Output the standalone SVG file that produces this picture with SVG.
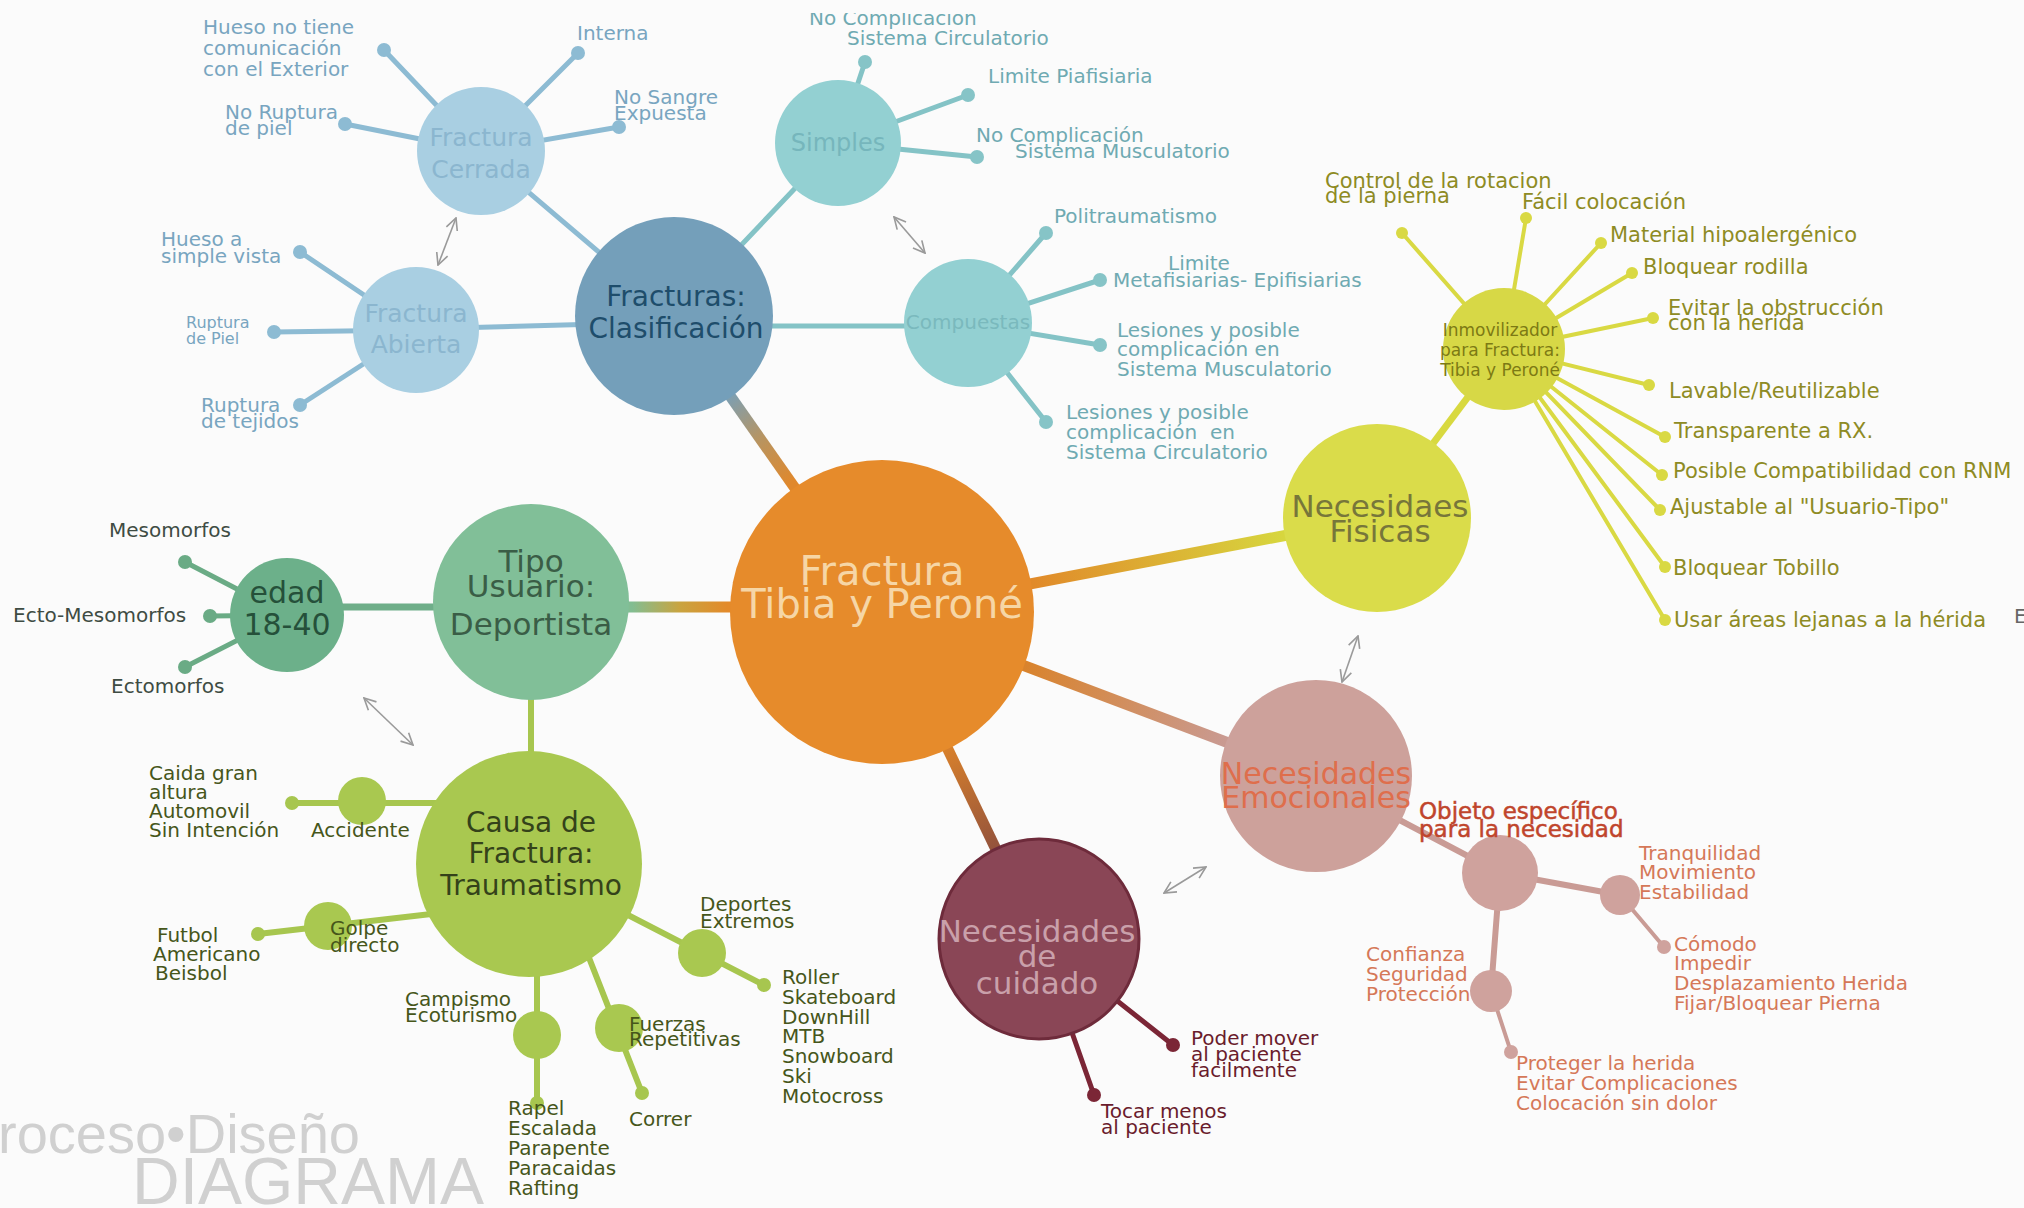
<svg xmlns="http://www.w3.org/2000/svg" width="2024" height="1208" viewBox="0 0 2024 1208">
<style>
text{font-family:"DejaVu Sans","Liberation Sans",sans-serif;}
.c{text-anchor:middle}
.lf{font-size:20px}
.lb{fill:#78a5c0}
.tl{fill:#6faab2}
.yl{fill:#8e8b24}
.gn{fill:#3e4c43}
.ol{fill:#46561a}
.rs{fill:#d57858}
.mr{fill:#6a1c2c}
.ln{fill:none;stroke-linecap:round}
.arr{stroke:#9a9a9a;stroke-width:1.6;fill:none;marker-start:url(#vh);marker-end:url(#vh)}
.wm{font-family:"Liberation Sans",sans-serif;fill:#d0d0d0}
</style>
<defs>
<marker id="vh" viewBox="0 0 12 12" refX="11" refY="6" markerWidth="14" markerHeight="14" markerUnits="userSpaceOnUse" orient="auto-start-reverse">
<path d="M1,1 L11,6 L1,11" fill="none" stroke="#9a9a9a" stroke-width="1.4"/>
</marker>
<linearGradient id="gFr" gradientUnits="userSpaceOnUse" x1="800" y1="477" x2="736" y2="391">
<stop offset="0" stop-color="#e0882c"/><stop offset="0.5" stop-color="#b89460"/><stop offset="1" stop-color="#7d9fb2"/>
</linearGradient>
<linearGradient id="gTi" gradientUnits="userSpaceOnUse" x1="727" y1="0" x2="632" y2="0">
<stop offset="0" stop-color="#e38a2a"/><stop offset="0.5" stop-color="#c9a440"/><stop offset="1" stop-color="#82bd92"/>
</linearGradient>
<linearGradient id="gFi" gradientUnits="userSpaceOnUse" x1="1033" y1="583" x2="1283" y2="536">
<stop offset="0" stop-color="#e18a2a"/><stop offset="1" stop-color="#d7d63e"/>
</linearGradient>
<linearGradient id="gEm" gradientUnits="userSpaceOnUse" x1="1024" y1="666" x2="1226" y2="742">
<stop offset="0" stop-color="#d9832c"/><stop offset="1" stop-color="#c99a92"/>
</linearGradient>
<linearGradient id="gCu" gradientUnits="userSpaceOnUse" x1="948" y1="750" x2="995" y2="848">
<stop offset="0" stop-color="#d67f2c"/><stop offset="1" stop-color="#94533c"/>
</linearGradient>
<clipPath id="topcut"><rect x="0" y="13" width="2024" height="1195"/></clipPath>
</defs>

<rect width="2024" height="1208" fill="#fbfbfb"/>

<g id="connectors">
  <!-- hub spokes -->
  <line x1="882" y1="612" x2="674" y2="316" stroke="url(#gFr)" stroke-width="11"/>
  <line x1="882" y1="607" x2="533" y2="607" stroke="url(#gTi)" stroke-width="11"/>
  <line x1="882" y1="612" x2="1377" y2="518" stroke="url(#gFi)" stroke-width="11"/>
  <line x1="882" y1="612" x2="1316" y2="776" stroke="url(#gEm)" stroke-width="11"/>
  <line x1="882" y1="612" x2="1039" y2="939" stroke="url(#gCu)" stroke-width="11"/>

  <!-- fracture classification -->
  <g class="ln" stroke="#8dbbd3" stroke-width="5">
    <line x1="674" y1="316" x2="480" y2="151"/>
    <line x1="674" y1="322" x2="416" y2="329"/>
    <line x1="480" y1="151" x2="384" y2="50"/>
    <line x1="480" y1="151" x2="578" y2="53"/>
    <line x1="480" y1="151" x2="345" y2="124"/>
    <line x1="480" y1="151" x2="619" y2="127"/>
    <line x1="416" y1="330" x2="300" y2="252"/>
    <line x1="416" y1="330" x2="274" y2="332"/>
    <line x1="416" y1="330" x2="300" y2="405"/>
  </g>
  <g class="ln" stroke="#84c3c6" stroke-width="5">
    <line x1="674" y1="316" x2="838" y2="143"/>
    <line x1="674" y1="326" x2="968" y2="326"/>
    <line x1="838" y1="143" x2="865" y2="62"/>
    <line x1="838" y1="143" x2="968" y2="95"/>
    <line x1="838" y1="143" x2="977" y2="157"/>
    <line x1="968" y1="323" x2="1046" y2="233"/>
    <line x1="968" y1="323" x2="1100" y2="280"/>
    <line x1="968" y1="323" x2="1100" y2="345"/>
    <line x1="968" y1="323" x2="1046" y2="422"/>
  </g>

  <!-- user type -->
  <g class="ln" stroke="#6fae89" stroke-width="7">
    <line x1="287" y1="607" x2="533" y2="607"/>
  </g>
  <g class="ln" stroke="#6aab85" stroke-width="5">
    <line x1="287" y1="615" x2="185" y2="562"/>
    <line x1="287" y1="615" x2="210" y2="616"/>
    <line x1="287" y1="615" x2="185" y2="667"/>
  </g>

  <!-- causes -->
  <g class="ln" stroke="#a7c64f" stroke-width="6">
    <line x1="531" y1="602" x2="531" y2="864"/>
    <line x1="529" y1="803" x2="292" y2="803"/>
    <line x1="440" y1="913" x2="258" y2="934"/>
    <line x1="529" y1="864" x2="764" y2="985"/>
    <line x1="537" y1="864" x2="537" y2="1103"/>
    <line x1="575" y1="922" x2="642" y2="1093"/>
  </g>

  <!-- physical needs -->
  <line x1="1377" y1="518" x2="1504" y2="349" stroke="#d8d940" stroke-width="7"/>
  <g class="ln" stroke="#d9d943" stroke-width="4">
    <line x1="1504" y1="349" x2="1402" y2="233"/>
    <line x1="1504" y1="349" x2="1526" y2="218"/>
    <line x1="1504" y1="349" x2="1601" y2="243"/>
    <line x1="1504" y1="349" x2="1632" y2="273"/>
    <line x1="1504" y1="349" x2="1653" y2="318"/>
    <line x1="1504" y1="349" x2="1649" y2="385"/>
    <line x1="1504" y1="349" x2="1665" y2="437"/>
    <line x1="1504" y1="349" x2="1662" y2="475"/>
    <line x1="1504" y1="349" x2="1660" y2="510"/>
    <line x1="1504" y1="349" x2="1665" y2="567"/>
    <line x1="1504" y1="349" x2="1665" y2="620"/>
  </g>

  <!-- emotional needs -->
  <g class="ln" stroke="#c99b95" stroke-width="6">
    <line x1="1316" y1="776" x2="1500" y2="873"/>
    <line x1="1500" y1="873" x2="1620" y2="895"/>
    <line x1="1500" y1="873" x2="1491" y2="991"/>
  </g>
  <g class="ln" stroke="#c99b95" stroke-width="4">
    <line x1="1620" y1="895" x2="1664" y2="947"/>
    <line x1="1491" y1="991" x2="1511" y2="1052"/>
  </g>

  <!-- care needs -->
  <g class="ln" stroke="#7b2636" stroke-width="5">
    <line x1="1039" y1="939" x2="1173" y2="1045"/>
    <line x1="1039" y1="939" x2="1094" y2="1095"/>
  </g>

  <!-- related-pair arrows -->
  <line class="arr" x1="456" y1="218" x2="438" y2="265"/>
  <line class="arr" x1="894" y1="217" x2="925" y2="253"/>
  <line class="arr" x1="364" y1="698" x2="413" y2="745"/>
  <line class="arr" x1="1358" y1="636" x2="1342" y2="682"/>
  <line class="arr" x1="1164" y1="893" x2="1206" y2="867"/>
</g>

<!-- hub -->
<g id="hub">
  <circle cx="882" cy="612" r="152" fill="#e68b2b"/>
  <text class="c" x="882" y="585" font-size="40" fill="#f6d6a6">Fractura</text>
  <text class="c" x="882" y="618" font-size="40" fill="#f6d6a6">Tibia y Peroné</text>
</g>

<g id="fracturas">
  <circle cx="674" cy="316" r="99" fill="#749fba"/>
  <text class="c" x="676" y="306" font-size="28" fill="#1e4d6b">Fracturas:</text>
  <text class="c" x="676" y="338" font-size="28" fill="#1e4d6b">Clasificación</text>
</g>

<g id="cerrada">
  <circle cx="481" cy="151" r="64" fill="#a9cfe2"/>
  <text class="c" x="481" y="146" font-size="25" fill="#8bb6cf">Fractura</text>
  <text class="c" x="481" y="178" font-size="25" fill="#8bb6cf">Cerrada</text>
</g>

<g id="abierta">
  <circle cx="416" cy="330" r="63" fill="#a9cfe2"/>
  <text class="c" x="416" y="322" font-size="25" fill="#8bb6cf">Fractura</text>
  <text class="c" x="416" y="353" font-size="25" fill="#8bb6cf">Abierta</text>
</g>

<g id="simples">
  <circle cx="838" cy="143" r="63" fill="#93d0d2"/>
  <text class="c" x="838" y="151" font-size="24" fill="#76b6bc">Simples</text>
</g>

<g id="compuestas">
  <circle cx="968" cy="323" r="64" fill="#93d0d2"/>
  <text class="c" x="968" y="329" font-size="20" fill="#7ab9bd">Compuestas</text>
</g>

<g id="tipo-usuario">
  <circle cx="531" cy="602" r="98" fill="#81bf98"/>
  <text class="c" x="531" y="572" font-size="31" fill="#3a5d46">Tipo</text>
  <text class="c" x="531" y="597" font-size="31" fill="#3a5d46">Usuario:</text>
  <text class="c" x="531" y="635" font-size="31" fill="#3a5d46">Deportista</text>
</g>

<g id="edad">
  <circle cx="287" cy="615" r="57" fill="#6cb08a"/>
  <text class="c" x="287" y="603" font-size="30" fill="#25503a">edad</text>
  <text class="c" x="287" y="635" font-size="30" fill="#25503a">18-40</text>
</g>

<g id="causa">
  <circle cx="529" cy="864" r="113" fill="#a9c850"/>
  <text class="c" x="531" y="832" font-size="28" fill="#34421a">Causa de</text>
  <text class="c" x="531" y="863" font-size="28" fill="#34421a">Fractura:</text>
  <text class="c" x="531" y="895" font-size="28" fill="#34421a">Traumatismo</text>
</g>

<g id="accidente">
  <circle cx="362" cy="801" r="24" fill="#a9c850"/>
  <text class="lf ol" x="311" y="837">Accidente</text>
</g>
<g id="golpe">
  <circle cx="328" cy="926" r="24" fill="#a9c850"/>
  <text class="lf ol" x="330" y="935">Golpe</text>
  <text class="lf ol" x="330" y="952">directo</text>
</g>
<g id="deportes">
  <circle cx="702" cy="953" r="24" fill="#a9c850"/>
  <text class="lf ol" x="700" y="911">Deportes</text>
  <text class="lf ol" x="700" y="928">Extremos</text>
</g>
<g id="campismo">
  <circle cx="537" cy="1035" r="24" fill="#a9c850"/>
  <text class="lf ol" x="405" y="1006">Campismo</text>
  <text class="lf ol" x="405" y="1022">Ecoturismo</text>
</g>
<g id="fuerzas">
  <circle cx="619" cy="1028" r="24" fill="#a9c850"/>
  <text class="lf ol" x="629" y="1031">Fuerzas</text>
  <text class="lf ol" x="629" y="1046">Repetitivas</text>
</g>

<g id="fisicas">
  <circle cx="1377" cy="518" r="94" fill="#dadc4a"/>
  <text class="c" x="1380" y="517" font-size="31" fill="#77763a">Necesidaes</text>
  <text class="c" x="1380" y="542" font-size="31" fill="#77763a">Fisicas</text>
</g>

<g id="inmovilizador">
  <circle cx="1504" cy="349" r="61" fill="#d7d846"/>
  <text class="c" x="1500" y="336" font-size="17" fill="#7d7a14">Inmovilizador</text>
  <text class="c" x="1500" y="356" font-size="17" fill="#7d7a14">para Fractura:</text>
  <text class="c" x="1500" y="376" font-size="17" fill="#7d7a14">Tibia y Peroné</text>
</g>

<g id="emocionales">
  <circle cx="1316" cy="776" r="96" fill="#cda19b"/>
  <text class="c" x="1316" y="784" font-size="30" fill="#df6e4c">Necesidades</text>
  <text class="c" x="1316" y="808" font-size="30" fill="#df6e4c">Emocionales</text>
</g>

<g id="objeto">
  <circle cx="1500" cy="873" r="38" fill="#cfa29d"/>
  <text x="1419" y="819" font-size="23" fill="#c0452c" stroke="#c0452c" stroke-width="0.5">Objeto específico</text>
  <text x="1419" y="837" font-size="23" fill="#c0452c" stroke="#c0452c" stroke-width="0.5">para la necesidad</text>
</g>
<g id="tranquilidad">
  <circle cx="1620" cy="895" r="20" fill="#cfa29d"/>
  <text class="lf rs" x="1639" y="860">Tranquilidad</text>
  <text class="lf rs" x="1639" y="879">Movimiento</text>
  <text class="lf rs" x="1639" y="899">Estabilidad</text>
</g>
<g id="confianza">
  <circle cx="1491" cy="991" r="21" fill="#cfa29d"/>
  <text class="lf rs" x="1366" y="961">Confianza</text>
  <text class="lf rs" x="1366" y="981">Seguridad</text>
  <text class="lf rs" x="1366" y="1001">Protección</text>
</g>

<g id="cuidado">
  <circle cx="1039" cy="939" r="100" fill="#8a4656" stroke="#6e2b3b" stroke-width="3"/>
  <text class="c" x="1037" y="942" font-size="31" fill="#c9a0aa">Necesidades</text>
  <text class="c" x="1037" y="967" font-size="31" fill="#c9a0aa">de</text>
  <text class="c" x="1037" y="994" font-size="31" fill="#c9a0aa">cuidado</text>
</g>

<!-- leaves: closed fracture -->
<g id="leaf-hueso-no-tiene">
  <circle cx="384" cy="50" r="7" fill="#8dbbd3"/>
  <text class="lf lb" x="203" y="34">Hueso no tiene</text>
  <text class="lf lb" x="203" y="55">comunicación</text>
  <text class="lf lb" x="203" y="76">con el Exterior</text>
</g>
<g id="leaf-interna">
  <circle cx="578" cy="53" r="7" fill="#8dbbd3"/>
  <text class="lf lb" x="577" y="40">Interna</text>
</g>
<g id="leaf-no-ruptura">
  <circle cx="345" cy="124" r="7" fill="#8dbbd3"/>
  <text class="lf lb" x="225" y="119">No Ruptura</text>
  <text class="lf lb" x="225" y="135">de piel</text>
</g>
<g id="leaf-no-sangre">
  <circle cx="619" cy="127" r="7" fill="#8dbbd3"/>
  <text class="lf lb" x="614" y="104">No Sangre</text>
  <text class="lf lb" x="614" y="120">Expuesta</text>
</g>

<!-- leaves: open fracture -->
<g id="leaf-hueso-vista">
  <circle cx="300" cy="252" r="7" fill="#8dbbd3"/>
  <text class="lf lb" x="161" y="246">Hueso a</text>
  <text class="lf lb" x="161" y="263">simple vista</text>
</g>
<g id="leaf-ruptura-piel">
  <circle cx="274" cy="332" r="7" fill="#8dbbd3"/>
  <text class="lb" x="186" y="328" font-size="16">Ruptura</text>
  <text class="lb" x="186" y="344" font-size="16">de Piel</text>
</g>
<g id="leaf-ruptura-tejidos">
  <circle cx="300" cy="405" r="7" fill="#8dbbd3"/>
  <text class="lf lb" x="201" y="412">Ruptura</text>
  <text class="lf lb" x="201" y="428">de tejidos</text>
</g>

<!-- leaves: simple -->
<g id="leaf-no-circulatorio">
  <circle cx="865" cy="62" r="7" fill="#86c4c7"/>
  <text class="lf tl" x="809" y="25" clip-path="url(#topcut)">No Complicación</text>
  <text class="lf tl" x="847" y="45">Sistema Circulatorio</text>
</g>
<g id="leaf-limite-piafisiaria">
  <circle cx="968" cy="95" r="7" fill="#86c4c7"/>
  <text class="lf tl" x="988" y="83">Limite Piafisiaria</text>
</g>
<g id="leaf-no-musculatorio">
  <circle cx="977" cy="157" r="7" fill="#86c4c7"/>
  <text class="lf tl" x="976" y="142">No Complicación</text>
  <text class="lf tl" x="1015" y="158">Sistema Musculatorio</text>
</g>

<!-- leaves: compound -->
<g id="leaf-politraumatismo">
  <circle cx="1046" cy="233" r="7" fill="#86c4c7"/>
  <text class="lf tl" x="1054" y="223">Politraumatismo</text>
</g>
<g id="leaf-limite-meta">
  <circle cx="1100" cy="280" r="7" fill="#86c4c7"/>
  <text class="lf tl" x="1168" y="270">Limite</text>
  <text class="lf tl" x="1113" y="287">Metafisiarias- Epifisiarias</text>
</g>
<g id="leaf-lesiones-musc">
  <circle cx="1100" cy="345" r="7" fill="#86c4c7"/>
  <text class="lf tl" x="1117" y="337">Lesiones y posible</text>
  <text class="lf tl" x="1117" y="356">complicación en</text>
  <text class="lf tl" x="1117" y="376">Sistema Musculatorio</text>
</g>
<g id="leaf-lesiones-circ">
  <circle cx="1046" cy="422" r="7" fill="#86c4c7"/>
  <text class="lf tl" x="1066" y="419">Lesiones y posible</text>
  <text class="lf tl" x="1066" y="439" xml:space="preserve">complicación  en</text>
  <text class="lf tl" x="1066" y="459">Sistema Circulatorio</text>
</g>

<!-- leaves: age / body type -->
<g id="leaf-mesomorfos">
  <circle cx="185" cy="562" r="7" fill="#6aab85"/>
  <text class="lf gn" x="109" y="537">Mesomorfos</text>
</g>
<g id="leaf-ecto-meso">
  <circle cx="210" cy="616" r="7" fill="#6aab85"/>
  <text class="lf gn" x="13" y="622">Ecto-Mesomorfos</text>
</g>
<g id="leaf-ectomorfos">
  <circle cx="185" cy="667" r="7" fill="#6aab85"/>
  <text class="lf gn" x="111" y="693">Ectomorfos</text>
</g>

<!-- leaves: causes -->
<g id="leaf-caida">
  <circle cx="292" cy="803" r="7" fill="#a7c64f"/>
  <text class="lf ol" x="149" y="780">Caida gran</text>
  <text class="lf ol" x="149" y="799">altura</text>
  <text class="lf ol" x="149" y="818">Automovil</text>
  <text class="lf ol" x="149" y="837">Sin Intención</text>
</g>
<g id="leaf-futbol">
  <circle cx="258" cy="934" r="7" fill="#a7c64f"/>
  <text class="lf ol" x="157" y="942">Futbol</text>
  <text class="lf ol" x="153" y="961">Americano</text>
  <text class="lf ol" x="155" y="980">Beisbol</text>
</g>
<g id="leaf-extremos">
  <circle cx="764" cy="985" r="7" fill="#a7c64f"/>
  <text class="lf ol" x="782" y="984">Roller</text>
  <text class="lf ol" x="782" y="1004">Skateboard</text>
  <text class="lf ol" x="782" y="1024">DownHill</text>
  <text class="lf ol" x="782" y="1043">MTB</text>
  <text class="lf ol" x="782" y="1063">Snowboard</text>
  <text class="lf ol" x="782" y="1083">Ski</text>
  <text class="lf ol" x="782" y="1103">Motocross</text>
</g>
<g id="leaf-rapel">
  <circle cx="537" cy="1103" r="7" fill="#a7c64f"/>
  <text class="lf ol" x="508" y="1115">Rapel</text>
  <text class="lf ol" x="508" y="1135">Escalada</text>
  <text class="lf ol" x="508" y="1155">Parapente</text>
  <text class="lf ol" x="508" y="1175">Paracaidas</text>
  <text class="lf ol" x="508" y="1195">Rafting</text>
</g>
<g id="leaf-correr">
  <circle cx="642" cy="1093" r="7" fill="#a7c64f"/>
  <text class="lf ol" x="629" y="1126">Correr</text>
</g>

<!-- leaves: immobilizer requirements -->
<g font-size="21">
<g id="leaf-rotacion">
  <circle cx="1402" cy="233" r="6" fill="#d9d943"/>
  <text class="yl" x="1325" y="188">Control de la rotacion</text>
  <text class="yl" x="1325" y="203">de la pierna</text>
</g>
<g id="leaf-facil">
  <circle cx="1526" cy="218" r="6" fill="#d9d943"/>
  <text class="yl" x="1522" y="209">Fácil colocación</text>
</g>
<g id="leaf-material">
  <circle cx="1601" cy="243" r="6" fill="#d9d943"/>
  <text class="yl" x="1610" y="242">Material hipoalergénico</text>
</g>
<g id="leaf-rodilla">
  <circle cx="1632" cy="273" r="6" fill="#d9d943"/>
  <text class="yl" x="1643" y="274">Bloquear rodilla</text>
</g>
<g id="leaf-obstruccion">
  <circle cx="1653" cy="318" r="6" fill="#d9d943"/>
  <text class="yl" x="1668" y="315">Evitar la obstrucción</text>
  <text class="yl" x="1668" y="330">con la herida</text>
</g>
<g id="leaf-lavable">
  <circle cx="1649" cy="385" r="6" fill="#d9d943"/>
  <text class="yl" x="1669" y="398">Lavable/Reutilizable</text>
</g>
<g id="leaf-rx">
  <circle cx="1665" cy="437" r="6" fill="#d9d943"/>
  <text class="yl" x="1674" y="438">Transparente a RX.</text>
</g>
<g id="leaf-rnm">
  <circle cx="1662" cy="475" r="6" fill="#d9d943"/>
  <text class="yl" x="1673" y="478">Posible Compatibilidad con RNM</text>
</g>
<g id="leaf-ajustable">
  <circle cx="1660" cy="510" r="6" fill="#d9d943"/>
  <text class="yl" x="1670" y="514">Ajustable al "Usuario-Tipo"</text>
</g>
<g id="leaf-tobillo">
  <circle cx="1665" cy="567" r="6" fill="#d9d943"/>
  <text class="yl" x="1673" y="575">Bloquear Tobillo</text>
</g>
<g id="leaf-areas">
  <circle cx="1665" cy="620" r="6" fill="#d9d943"/>
  <text class="yl" x="1674" y="627">Usar áreas lejanas a la hérida</text>
</g>
</g>
<text x="2014" y="623" font-size="20" fill="#666">E</text>

<!-- leaves: emotional -->
<g id="leaf-comodo">
  <circle cx="1664" cy="947" r="7" fill="#cfa29d"/>
  <text class="lf rs" x="1674" y="951">Cómodo</text>
  <text class="lf rs" x="1674" y="970">Impedir</text>
  <text class="lf rs" x="1674" y="990">Desplazamiento Herida</text>
  <text class="lf rs" x="1674" y="1010">Fijar/Bloquear Pierna</text>
</g>
<g id="leaf-proteger">
  <circle cx="1511" cy="1052" r="7" fill="#cfa29d"/>
  <text class="lf rs" x="1516" y="1070">Proteger la herida</text>
  <text class="lf rs" x="1516" y="1090">Evitar Complicaciones</text>
  <text class="lf rs" x="1516" y="1110">Colocación sin dolor</text>
</g>

<!-- leaves: care -->
<g id="leaf-poder-mover">
  <circle cx="1173" cy="1045" r="7" fill="#7b2636"/>
  <text class="lf mr" x="1191" y="1045">Poder mover</text>
  <text class="lf mr" x="1191" y="1061">al paciente</text>
  <text class="lf mr" x="1191" y="1077">facilmente</text>
</g>
<g id="leaf-tocar-menos">
  <circle cx="1094" cy="1095" r="7" fill="#7b2636"/>
  <text class="lf mr" x="1101" y="1118">Tocar menos</text>
  <text class="lf mr" x="1101" y="1134">al paciente</text>
</g>

<!-- footer mark -->
<text class="wm" x="-2" y="1153" font-size="56">roceso•Diseño</text>
<text class="wm" x="132" y="1204" font-size="66">DIAGRAMA</text>
</svg>
